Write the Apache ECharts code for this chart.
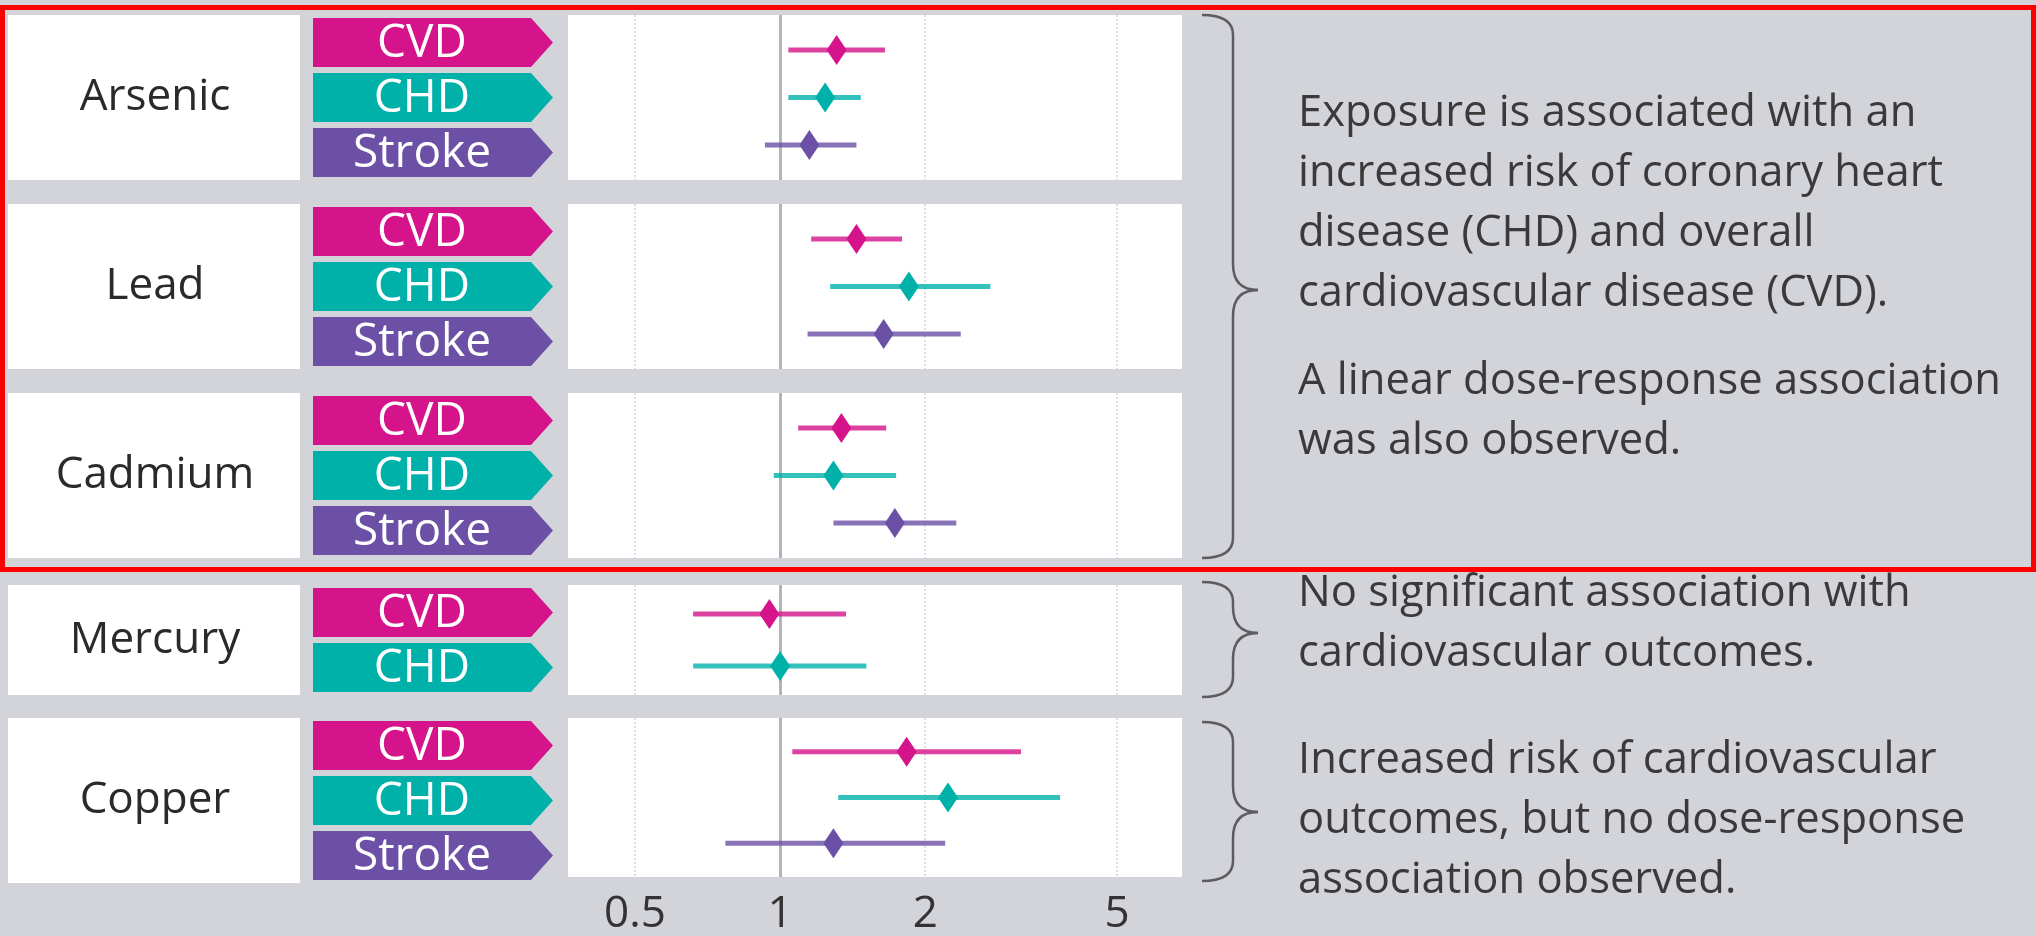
<!DOCTYPE html>
<html>
<head>
<meta charset="utf-8">
<script src="https://cdn.jsdelivr.net/npm/echarts@6/dist/echarts.min.js"></script>
<style>
html,body{margin:0;padding:0;background:#d3d4d9;}
#chart{width:2036px;height:936px;}
</style>
</head>
<body>
<div id="chart"></div>
<script>
// ---------- data ----------
const metals = ['Arsenic', 'Lead', 'Cadmium', 'Mercury', 'Copper'];
const outcomeSets = [
  ['CVD', 'CHD', 'Stroke'],
  ['CVD', 'CHD', 'Stroke'],
  ['CVD', 'CHD', 'Stroke'],
  ['CVD', 'CHD'],
  ['CVD', 'CHD', 'Stroke']
];
const estimates = [[1.31, 1.24, 1.15], [1.44, 1.85, 1.64], [1.34, 1.29, 1.73], [0.95, 1.00], [1.83, 2.23, 1.29]];
const lowerCI   = [[1.04, 1.04, 0.93], [1.16, 1.27, 1.14], [1.09, 0.97, 1.29], [0.66, 0.66], [1.06, 1.32, 0.77]];
const upperCI   = [[1.65, 1.47, 1.44], [1.79, 2.73, 2.37], [1.66, 1.74, 2.32], [1.37, 1.51], [3.16, 3.81, 2.20]];
const xTicks = [0.5, 1, 2, 5];
const noteGroups = [
  ['Exposure is associated with an', 'increased risk of coronary heart', 'disease (CHD) and overall', 'cardiovascular disease (CVD).'],
  ['A linear dose-response association', 'was also observed.'],
  ['No significant association with', 'cardiovascular outcomes.'],
  ['Increased risk of cardiovascular', 'outcomes, but no dose-response', 'association observed.']
];

// ---------- layout / style ----------
const FONT = 'Open Sans';
const colors = { CVD: '#d5138a', CHD: '#00b1aa', Stroke: '#6b50a6' };
const panelTop = [15, 204, 393, 585, 718];
const rowH = 55;
const noteTops = [84, 352, 564, 731];
const braces = [[15, 558, 290], [582, 697, 633], [722, 881, 812]];

const option = {
  backgroundColor: '#d3d4d9',
  animation: false,
  grid: [], xAxis: [], yAxis: [], series: [], graphic: []
};

function tagRender(i) {
  return function (params, api) {
    const j = api.value(1);
    const y = api.coord([0, j])[1];
    const band = api.size([0, 1])[1];
    const h = band - 6;
    const cs = params.coordSys;
    const x0 = cs.x, x1 = cs.x + cs.width;
    const name = outcomeSets[i][j];
    return {
      type: 'group',
      children: [
        { type: 'polygon',
          shape: { points: [[x0, y - h / 2], [x1 - 22, y - h / 2], [x1, y], [x1 - 22, y + h / 2], [x0, y + h / 2]] },
          style: { fill: colors[name] } },
        { type: 'text',
          style: { text: name, x: (x0 + x1 - 22) / 2, y: y + 1, align: 'center', verticalAlign: 'middle',
                   fontFamily: FONT, fontSize: 46, fill: '#ffffff' } }
      ]
    };
  };
}

function ciRender(i) {
  return function (params, api) {
    const j = api.value(3);
    const p1 = api.coord([api.value(0), j]);
    const p2 = api.coord([api.value(1), j]);
    const pe = api.coord([api.value(2), j]);
    const c = colors[outcomeSets[i][j]];
    const w = 10, hh = 15;
    return {
      type: 'group',
      children: [
        { type: 'line', shape: { x1: p1[0], y1: p1[1], x2: p2[0], y2: p2[1] },
          style: { stroke: c, lineWidth: 5, opacity: 0.8 } },
        { type: 'polygon', shape: { points: [[pe[0], pe[1] - hh], [pe[0] + w, pe[1]], [pe[0], pe[1] + hh], [pe[0] - w, pe[1]]] },
          style: { fill: c } }
      ]
    };
  };
}

metals.forEach(function (metal, i) {
  const n = outcomeSets[i].length;
  const top = panelTop[i];
  const h = n * rowH;
  const pad = n === 3 ? 0.74 : 0.56;
  const last = i === metals.length - 1;

  // label box
  let g = option.grid.length;
  option.grid.push({ left: 8, top: top, width: 292, height: h, show: true, backgroundColor: '#ffffff', borderWidth: 0 });
  option.xAxis.push({ gridIndex: g, type: 'value', show: false });
  option.yAxis.push({ gridIndex: g, type: 'value', show: false });

  // tags
  g = option.grid.length;
  option.grid.push({ left: 313, top: top, width: 240, height: h, show: false });
  option.xAxis.push({ gridIndex: g, type: 'value', min: 0, max: 1, show: false });
  option.yAxis.push({
    gridIndex: g, type: 'category', data: outcomeSets[i], inverse: true,
    axisLine: { show: false }, axisTick: { show: false }, axisLabel: { show: false }, splitLine: { show: false },
    name: metal, nameLocation: 'middle', nameRotate: 0, nameGap: 158,
    nameTextStyle: { fontFamily: FONT, fontSize: 44, color: '#2a2a2a', align: 'center', verticalAlign: 'middle' }
  });
  option.series.push({
    type: 'custom', xAxisIndex: g, yAxisIndex: g, clip: false, silent: true,
    data: outcomeSets[i].map(function (o, j) { return [0, j]; }),
    renderItem: tagRender(i)
  });

  // forest plot
  g = option.grid.length;
  option.grid.push({ left: 568, top: top, width: 614, height: h, show: true, backgroundColor: '#ffffff', borderWidth: 0 });
  option.xAxis.push({
    gridIndex: g, type: 'log', logBase: 10, min: 0.363, max: 6.82,
    axisLine: { show: false }, axisTick: { show: false }, splitLine: { show: false },
    axisLabel: last ? {
      show: true, customValues: xTicks, margin: 37, verticalAlign: 'middle',
      formatter: function (v) { return String(v); },
      fontFamily: FONT, fontSize: 44, color: '#333333'
    } : { show: false }
  });
  option.yAxis.push({ gridIndex: g, type: 'value', inverse: true, min: -pad, max: n - 1 + pad, show: false });
  option.series.push({
    type: 'line', xAxisIndex: g, yAxisIndex: g, data: [], silent: true, z: 1,
    markLine: {
      silent: true, symbol: ['none', 'none'], label: { show: false },
      data: xTicks.map(function (v) {
        return { xAxis: v, lineStyle: v === 1 ? { color: '#b3b3bb', width: 3, type: 'solid' } : { color: '#dfdfe8', width: 2, type: 'dotted' } };
      })
    }
  });
  option.series.push({
    type: 'custom', xAxisIndex: g, yAxisIndex: g, clip: false, silent: true, z: 5,
    data: outcomeSets[i].map(function (o, j) { return [lowerCI[i][j], upperCI[i][j], estimates[i][j], j]; }),
    renderItem: ciRender(i)
  });
});

// braces (built from curve + line pieces)
const braceStyle = { fill: 'none', stroke: '#5b5b60', lineWidth: 2.5 };
braces.forEach(function (b) {
  const top = b[0], bottom = b[1], tip = b[2];
  const x0 = 1202, x1 = 1233, x2 = 1258, r = 20, t = 26;
  const parts = [
    { type: 'bezierCurve', shape: { x1: x0, y1: top, cpx1: x1, cpy1: top, x2: x1, y2: top + r } },
    { type: 'line', shape: { x1: x1, y1: top + r, x2: x1, y2: tip - t } },
    { type: 'bezierCurve', shape: { x1: x1, y1: tip - t, cpx1: x1, cpy1: tip, x2: x2, y2: tip } },
    { type: 'bezierCurve', shape: { x1: x2, y1: tip, cpx1: x1, cpy1: tip, x2: x1, y2: tip + t } },
    { type: 'line', shape: { x1: x1, y1: tip + t, x2: x1, y2: bottom - r } },
    { type: 'bezierCurve', shape: { x1: x1, y1: bottom - r, cpx1: x1, cpy1: bottom, x2: x0, y2: bottom } }
  ];
  parts.forEach(function (p) {
    p.style = braceStyle; p.silent = true;
    option.graphic.push(p);
  });
});

// notes
noteGroups.forEach(function (lines, k) {
  option.graphic.push({
    type: 'text', silent: true,
    style: { text: lines.join('\n'), x: 1298, y: noteTops[k], verticalAlign: 'top', align: 'left',
             fontFamily: FONT, fontSize: 43.5, lineHeight: 60, fill: '#3a3a3a' }
  });
});

// highlight frame
option.graphic.push({
  type: 'rect', silent: true, z: 100,
  shape: { x: 2.5, y: 7.5, width: 2031, height: 562 },
  style: { fill: 'none', stroke: '#ff0000', lineWidth: 5 }
});

const chart = echarts.init(document.getElementById('chart'), null, { renderer: 'canvas' });
chart.setOption(option);
</script>
</body>
</html>
